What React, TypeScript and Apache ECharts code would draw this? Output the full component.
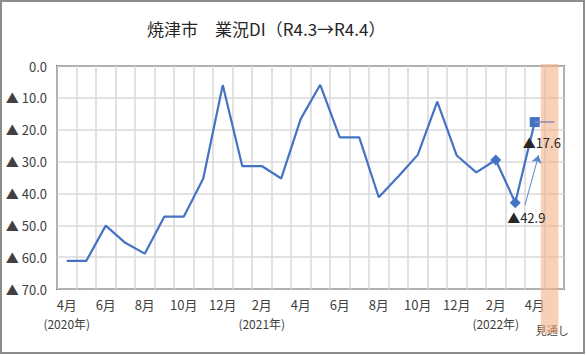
import React, { useEffect, useRef } from "react";
import * as echarts from "echarts";

const titleText = "焼津市　業況DI（R4.3→R4.4）";
const categories = [
  "4月", "5月", "6月", "7月", "8月", "9月", "10月", "11月", "12月", "1月", "2月", "3月",
  "4月", "5月", "6月", "7月", "8月", "9月", "10月", "11月", "12月", "1月", "2月", "3月",
  "4月", "見通し",
];
const yearNotes: Record<number, string> = { 0: "(2020年)", 10: "(2021年)", 22: "(2022年)" };
const diValues = [
  -61.2, -61.2, -50.1, -55.5, -58.9, -47.3, -47.3, -35.3, -6.0, -31.4, -31.4, -35.3,
  -16.6, -5.9, -22.4, -22.4, -41.2, -34.7, -27.9, -11.2, -28.1, -33.4, -29.5, -42.9, -17.6,
];
const forecastValues = [-17.6, -17.6]; // 4月 -> 見通し
const bandValues = [[25, -84]];
const arrowFrom = [23.5, -43.6];
const arrowTo = [24.2, -28.0];
const yTicks = { min: -70, max: 0, interval: 10 };

const FONT = "'Noto Sans CJK JP', 'Noto Sans', sans-serif";

export default function App() {
  const ref = useRef<HTMLDivElement>(null);
  useEffect(() => {
    if (!ref.current) return;
    const chart = echarts.init(ref.current, null, { renderer: "svg" });
    const n = categories.length;
    const mainData = diValues.map((v, i) => {
      if (i === 22) return { value: v, symbol: "diamond", symbolSize: 11 };
      if (i === 23)
        return {
          value: v,
          symbol: "diamond",
          symbolSize: 11,
          label: { show: true, position: "bottom", distance: 3, offset: [11, 0], formatter: "▲" + Math.abs(v).toFixed(1) },
        };
      if (i === 24)
        return {
          value: v,
          symbol: "rect",
          symbolSize: 10,
          label: { show: true, position: "bottom", distance: 9, offset: [7, 0], formatter: "▲" + Math.abs(v).toFixed(1) },
        };
      return { value: v, symbol: "none" };
    });
    const fcData: (number | null)[] = new Array(n).fill(null);
    fcData[n - 2] = forecastValues[0];
    fcData[n - 1] = forecastValues[1];

    chart.setOption({
      animation: false,
      title: {
        text: titleText,
        left: 142,
        top: 15,
        textStyle: { fontSize: 17, fontWeight: "normal", color: "#262626", fontFamily: FONT },
      },
      graphic: [
        {
          type: "rect",
          shape: { x: 1, y: 1, width: 583, height: 352 },
          style: { fill: "none", stroke: "#8c8c8c", lineWidth: 2 },
          z: 100,
        },
      ],
      grid: {
        left: 57,
        top: 66,
        right: 22,
        bottom: 66,
        show: true,
        borderColor: "#000",
        borderWidth: 1.5,
      },
      xAxis: [
        {
          type: "category",
          data: categories,
          boundaryGap: true,
          position: "bottom",
          axisLine: { show: false },
          axisTick: { show: false },
          splitLine: { show: true, interval: 0, lineStyle: { color: "#d9d9d9", width: 1.5 } },
          axisLabel: {
            interval: (i: number) => i % 2 === 0 && i < n - 1,
            margin: 7,
            color: "#404040",
            fontFamily: FONT,
            formatter: (v: string, i: number) => {
              if (yearNotes[i]) return "{m|" + v + "}\n{y|" + yearNotes[i] + "}";
              return "{m|" + v + "}";
            },
            rich: {
              m: { fontSize: 13, lineHeight: 16, color: "#404040", fontFamily: FONT },
              y: { fontSize: 12, lineHeight: 22, color: "#404040", fontFamily: FONT },
            },
          },
        },
        {
          type: "value",
          min: -0.5,
          max: n - 0.5,
          show: false,
          splitLine: { show: false },
        },
        {
          type: "category",
          data: categories,
          boundaryGap: true,
          position: "bottom",
          axisLine: { show: false },
          axisTick: { show: false },
          splitLine: { show: false },
          axisLabel: {
            interval: (i: number) => i === n - 1,
            showMaxLabel: true,
            margin: 7,
            formatter: (v: string) => "{s|" + v + "}",
            rich: {
              s: { fontSize: 11, lineHeight: 14, padding: [54, 4, 0, 0], color: "#404040", fontFamily: FONT },
            },
          },
        },
      ],
      yAxis: {
        type: "value",
        min: yTicks.min,
        max: yTicks.max,
        interval: yTicks.interval,
        axisLine: { show: false },
        axisTick: { show: false },
        splitLine: { lineStyle: { color: "#d9d9d9", width: 1.5 } },
        axisLabel: {
          margin: 10,
          fontSize: 13,
          color: "#404040",
          fontFamily: FONT,
          formatter: (v: number) => (v === 0 ? "0.0" : "▲ " + Math.abs(v).toFixed(1)),
        },
      },
      series: [
        {
          type: "custom",
          xAxisIndex: 0,
          z: 1,
          clip: false,
          data: bandValues,
          renderItem: (params: any, api: any) => {
            const top = api.coord([api.value(0), 0]);
            const bot = api.coord([api.value(0), api.value(1)]);
            const w = api.size([1, 0])[0];
            return {
              type: "rect",
              shape: { x: top[0] - w * 0.69, y: top[1] - 2, width: w * 0.9, height: bot[1] - top[1] + 2 },
              style: { fill: "rgba(244,176,132,0.6)" },
            };
          },
        },
        {
          type: "line",
          xAxisIndex: 0,
          z: 3,
          data: mainData,
          lineStyle: { color: "#4472C4", width: 2.2 },
          itemStyle: { color: "#4472C4" },
          label: { color: "#262626", fontSize: 13, fontFamily: FONT },
        },
        {
          type: "line",
          xAxisIndex: 0,
          z: 4,
          data: fcData,
          symbol: "none",
          lineStyle: { color: "#8a8cb8", width: 1.5 },
        },
        {
          type: "line",
          xAxisIndex: 1,
          z: 4,
          data: [arrowFrom, arrowTo],
          symbol: "none",
          lineStyle: { opacity: 0 },
          markLine: {
            silent: true,
            symbol: ["none", "arrow"],
            symbolSize: 8,
            label: { show: false },
            lineStyle: { color: "#5b85cc", width: 1, type: "solid" },
            data: [[{ coord: arrowFrom }, { coord: arrowTo }]],
          },
        },
      ],
    });
    return () => chart.dispose();
  }, []);
  return (
    <div
      ref={ref}
      style={{ position: "fixed", left: 0, top: 0, width: 586, height: 355, background: "#fff" }}
    />
  );
}
